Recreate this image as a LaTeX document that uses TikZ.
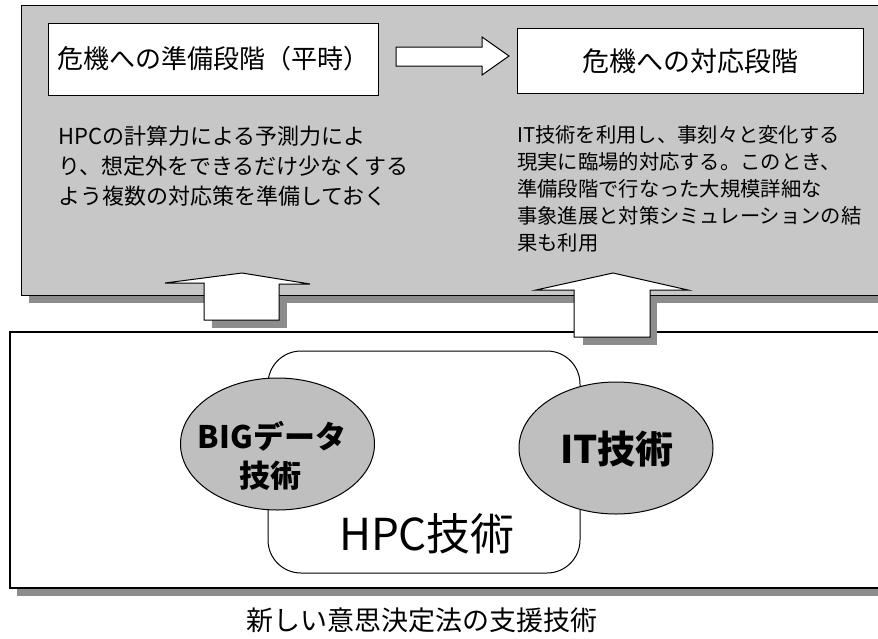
\documentclass[tikz,border=0pt]{standalone}
\usepackage{fontspec}
\setmainfont{Noto Sans CJK JP}
\usetikzlibrary{shapes.geometric}
\begin{document}
\begin{tikzpicture}[x=1pt,y=-1pt,line join=miter,
  stip/.style={fill=black!22},
  shadowfill/.style={fill=black!45},
  wbox/.style={draw=black,line width=1pt,fill=white},
  blockarrow/.style={draw=black,line width=1pt,fill=white},
  bodytxt/.style={inner sep=0pt,anchor=base west,font=\fontsize{22}{26}\selectfont},
  righttxt/.style={inner sep=0pt,anchor=base west,font=\fontsize{20.3}{24}\selectfont},
  bubble/.style={ellipse,draw=black,line width=1pt,fill=black!25,inner sep=0pt,minimum width=194pt,minimum height=132pt},
]
\useasboundingbox (0,0) rectangle (878,638);
\clip (0,0) rectangle (878,638);
% top panel with shadow
\fill[shadowfill] (29,295) rectangle (890,303);
\path[stip,draw=black,line width=1pt] (21,5) rectangle (890,295);
% bottom panel with shadow
\fill[shadowfill] (17,588) rectangle (890,596);
\draw[wbox,line width=1.2pt] (10,332) rectangle (890,588);

% stage boxes
\node[wbox,minimum width=330pt,minimum height=72pt,inner sep=0pt,font=\fontsize{26}{30}\selectfont] (prep) at (213,59) {危機への準備段階（平時）};
\node[wbox,minimum width=346pt,minimum height=65pt,inner sep=0pt,font=\fontsize{27}{30}\selectfont] (resp) at (690,61) {危機への対応段階};

% horizontal block arrow
\coordinate (ha) at (prep.east);
\draw[blockarrow] (396,47) -- (482,47) -- (482,37) -- (509,56) -- (482,75) -- (482,66) -- (396,66) -- cycle;

% description texts
\node[bodytxt] (l1) at (58,144) {HPCの計算力による予測力によ};
\node[bodytxt] (l2) at (58,174) {り、想定外をできるだけ少なくする};
\node[bodytxt] (l3) at (58,204) {よう複数の対応策を準備しておく};

\node[righttxt] (r1) at (517,142) {IT技術を利用し、事刻々と変化する};
\node[righttxt] (r2) at (517,169) {現実に臨場的対応する。このとき、};
\node[righttxt] (r3) at (517,196) {準備段階で行なった大規模詳細な};
\node[righttxt] (r4) at (517,223) {事象進展と対策シミュレーションの結};
\node[righttxt] (r5) at (517,250) {果も利用};

% up arrows with shadows
\fill[shadowfill] (279,297) rectangle (287,328);
\fill[shadowfill] (212,320) rectangle (287,328);
\draw[blockarrow] (204,320) -- (204,283) -- (165,283) -- (242,273) -- (310,284) -- (279,284) -- (279,320) -- cycle;

\fill[shadowfill] (650,297) rectangle (657,345);
\fill[shadowfill] (583,337) rectangle (657,345);
\draw[blockarrow] (574,337) -- (574,290) -- (536,290) -- (613,273) -- (688,290) -- (650,290) -- (650,337) -- cycle;

% HPC box and bubbles
\node[draw=black,line width=1pt,fill=white,rounded corners=33pt,minimum width=312pt,minimum height=222pt,inner sep=0pt] (hpc) at (424,462) {};
\node[inner sep=0pt,anchor=base,font=\fontsize{44}{48}\selectfont] (hpct) at (427,550) {HPC技術};

\node[bubble] (big) at (277.5,444) {};
\node[inner sep=0pt,anchor=base,font=\fontsize{31}{34}\selectfont\bfseries] (big1) at (272,448) {BIGデータ};
\node[inner sep=0pt,anchor=base,font=\fontsize{31}{34}\selectfont\bfseries] (big2) at (270,487) {技術};

\node[bubble] (it) at (616,448) {};
\node[inner sep=0pt,anchor=base,font=\fontsize{38}{40}\selectfont\bfseries] (itt) at (617,463) {IT技術};

% caption
\node[inner sep=0pt,anchor=base,font=\fontsize{27}{30}\selectfont] (cap) at (422,630) {新しい意思決定法の支援技術};
\end{tikzpicture}
\end{document}
